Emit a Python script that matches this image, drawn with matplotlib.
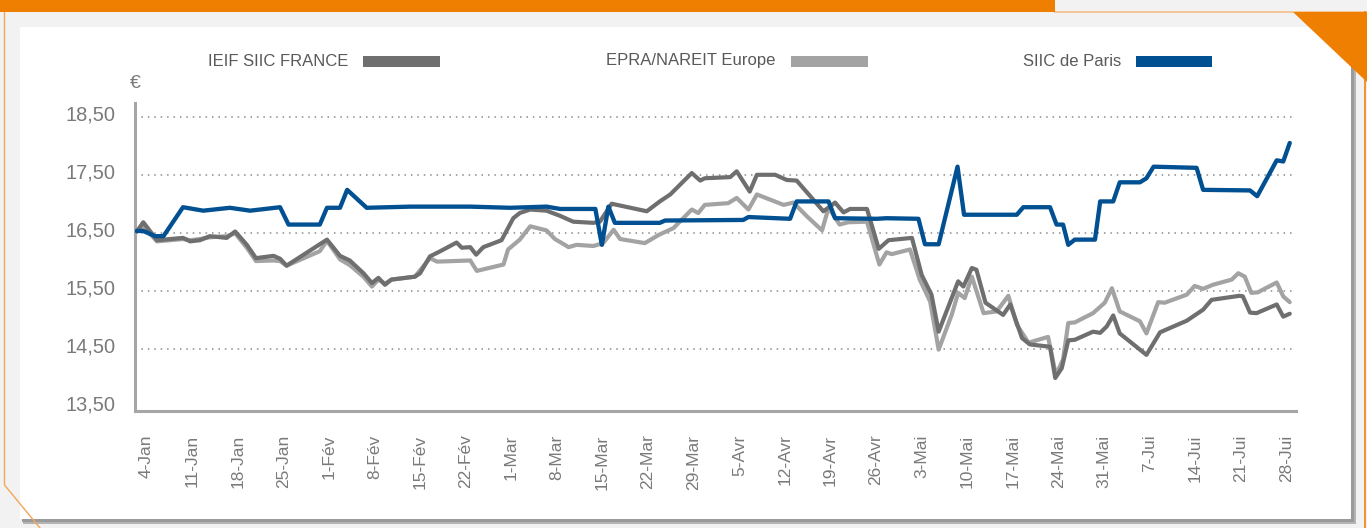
import matplotlib
matplotlib.use("Agg")
import matplotlib.pyplot as plt
from matplotlib.patches import Rectangle, Polygon
from matplotlib.lines import Line2D
from matplotlib.transforms import ScaledTranslation

# ---------------- data (x = calendar days since 4-Jan) ----------------
tick_days = [0, 7, 14, 21, 28, 35, 42, 49, 56, 63, 70, 77, 84, 91, 98, 105,
             112, 119, 126, 133, 140, 147, 154, 161, 168, 175]
tick_labels = ["4-Jan", "11-Jan", "18-Jan", "25-Jan", "1-Fév", "8-Fév", "15-Fév",
               "22-Fév", "1-Mar", "8-Mar", "15-Mar", "22-Mar", "29-Mar", "5-Avr",
               "12-Avr", "19-Avr", "26-Avr", "3-Mai", "10-Mai", "17-Mai", "24-Mai",
               "31-Mai", "7-Jui", "14-Jui", "21-Jui", "28-Jui"]
y_ticks = [13.5, 14.5, 15.5, 16.5, 17.5, 18.5]
y_ticklabels = ["13,50", "14,50", "15,50", "16,50", "17,50", "18,50"]

series_names = ["IEIF SIIC FRANCE", "EPRA/NAREIT Europe", "SIIC de Paris"]

ieif_days = [-1.5, -0.5, 1.6, 3.6, 5.6, 6.7, 8.2, 9.7, 12.3, 13.6,
             15.4, 16.8, 19.5, 20.5, 21.5, 27.7, 29.7, 31.2, 33.3, 34.6,
             35.6, 36.6, 37.6, 41.2, 42.0, 43.5, 45.1, 47.6, 48.4, 49.7,
             50.6, 51.7, 54.5, 56.3, 57.3, 58.9, 61.4, 63.5, 65.5, 68.6,
             69.6, 71.4, 76.8, 78.8, 80.4, 83.7, 85.0, 85.7, 89.6, 90.6,
             92.6, 93.7, 96.5, 98.3, 99.8, 101.9, 103.9, 104.9, 105.7, 107.0,
             108.0, 110.6, 112.4, 113.9, 117.5, 119.0, 120.5, 121.6, 124.6, 125.4,
             126.7, 127.4, 128.8, 131.5, 132.6, 134.4, 135.6, 138.7, 139.5, 140.5,
             141.5, 142.5, 145.3, 146.4, 147.4, 148.4, 149.4, 153.5, 155.6, 159.7,
             162.2, 163.5, 167.8, 168.3, 169.4, 170.4, 173.5, 174.5, 175.5]
ieif_vals = [16.53, 16.69, 16.38, 16.40, 16.42, 16.36, 16.38, 16.45, 16.42, 16.53,
             16.30, 16.07, 16.11, 16.06, 15.94, 16.39, 16.11, 16.03, 15.81, 15.64,
             15.73, 15.61, 15.70, 15.75, 15.81, 16.10, 16.19, 16.34, 16.25, 16.26,
             16.13, 16.26, 16.38, 16.76, 16.85, 16.91, 16.89, 16.80, 16.70, 16.68,
             16.70, 17.01, 16.88, 17.05, 17.17, 17.54, 17.41, 17.45, 17.47, 17.57,
             17.22, 17.51, 17.51, 17.42, 17.41, 17.14, 16.88, 16.96, 17.03, 16.86,
             16.92, 16.92, 16.23, 16.38, 16.42, 15.78, 15.44, 14.80, 15.67, 15.58,
             15.90, 15.87, 15.30, 15.09, 15.27, 14.69, 14.58, 14.54, 14.00, 14.17,
             14.65, 14.66, 14.80, 14.78, 14.89, 15.08, 14.77, 14.40, 14.79, 14.99,
             15.18, 15.35, 15.42, 15.41, 15.13, 15.12, 15.27, 15.06, 15.11]

epra_days = [-1.5, -0.5, 1.6, 3.6, 5.6, 6.7, 8.2, 9.7, 12.3, 13.6,
             15.4, 16.8, 19.5, 20.5, 21.5, 26.6, 27.7, 29.7, 31.2, 33.3,
             34.6, 35.6, 36.6, 37.6, 41.2, 43.5, 44.6, 49.7, 50.7, 54.8,
             55.5, 57.3, 58.9, 61.4, 62.7, 64.8, 66.0, 68.6, 70.1, 71.7,
             72.7, 76.5, 78.6, 80.9, 83.7, 84.7, 85.7, 89.3, 90.6, 92.4,
             93.7, 97.8, 99.3, 101.4, 103.7, 104.7, 106.4, 107.7, 110.6, 112.5,
             113.6, 114.4, 117.2, 118.7, 120.3, 121.6, 123.6, 124.6, 125.6, 126.7,
             128.5, 130.5, 132.3, 133.6, 135.4, 138.4, 139.6, 140.7, 141.5, 142.5,
             145.3, 147.1, 148.2, 149.4, 152.5, 153.5, 155.3, 156.3, 159.7, 160.9,
             162.2, 163.7, 166.6, 167.6, 168.6, 169.6, 170.6, 173.5, 174.5, 175.5]
epra_vals = [16.53, 16.62, 16.36, 16.38, 16.40, 16.38, 16.40, 16.43, 16.45, 16.50,
             16.25, 16.02, 16.03, 16.02, 15.94, 16.19, 16.37, 16.05, 15.95, 15.75,
             15.58, 15.70, 15.63, 15.70, 15.75, 16.07, 16.01, 16.03, 15.85, 15.96,
             16.22, 16.39, 16.62, 16.55, 16.40, 16.26, 16.30, 16.28, 16.33, 16.56,
             16.40, 16.33, 16.47, 16.59, 16.91, 16.85, 16.99, 17.02, 17.11, 16.91,
             17.17, 16.99, 17.03, 16.79, 16.55, 16.94, 16.65, 16.69, 16.70, 15.96,
             16.17, 16.14, 16.22, 15.70, 15.32, 14.49, 15.09, 15.47, 15.38, 15.75,
             15.12, 15.15, 15.42, 14.92, 14.61, 14.71, 14.05, 14.32, 14.95, 14.96,
             15.12, 15.30, 15.55, 15.15, 14.98, 14.77, 15.31, 15.30, 15.44, 15.59,
             15.54, 15.61, 15.70, 15.81, 15.75, 15.47, 15.48, 15.65, 15.41, 15.31]

siic_days = [-1.5, -0.5, 1.3, 2.6, 5.6, 8.7, 12.8, 15.9, 20.5, 21.8,
             26.6, 27.7, 29.7, 30.8, 33.8, 40.5, 49.7, 55.8, 61.4, 63.5,
             68.9, 69.9, 70.9, 71.9, 78.8, 79.6, 91.6, 92.4, 98.8, 99.8,
             104.7, 105.7, 112.1, 113.6, 118.5, 119.5, 121.6, 124.5, 125.5, 133.6,
             134.6, 138.7, 139.7, 140.7, 141.5, 142.5, 145.6, 146.4, 148.4, 149.4,
             152.5, 153.5, 154.6, 161.2, 162.2, 169.4, 170.5, 173.5, 174.5, 175.5]
siic_vals = [16.54, 16.54, 16.45, 16.45, 16.95, 16.89, 16.94, 16.89, 16.95, 16.65,
             16.65, 16.94, 16.94, 17.25, 16.94, 16.96, 16.96, 16.94, 16.96, 16.92,
             16.92, 16.30, 16.96, 16.68, 16.68, 16.72, 16.73, 16.78, 16.75, 17.05,
             17.05, 16.76, 16.75, 16.76, 16.75, 16.31, 16.31, 17.65, 16.82, 16.82,
             16.95, 16.95, 16.65, 16.65, 16.30, 16.39, 16.39, 17.05, 17.05, 17.38,
             17.38, 17.45, 17.65, 17.63, 17.25, 17.24, 17.14, 17.76, 17.74, 18.06]

colors = ["#6f6f6f", "#a3a3a3", "#005092"]

# ---------------- figure ----------------
W, H = 1367, 528
plt.rcParams["font.family"] = ["Liberation Sans", "DejaVu Sans"]
fig = plt.figure(figsize=(W / 100, H / 100), dpi=100, facecolor="#f2f2f2")


def fx(x):
    return x / W


def fy(y):
    return 1 - y / H


def prect(x0, y0, x1, y1, **kw):
    fig.patches.append(Rectangle((fx(x0), fy(y1)), fx(x1) - fx(x0), fy(y0) - fy(y1),
                                 transform=fig.transFigure, **kw))


def pline(xs, ys, **kw):
    fig.add_artist(Line2D([fx(v) for v in xs], [fy(v) for v in ys],
                          transform=fig.transFigure, **kw))


# decorations
prect(0, 0, 1055, 11.5, facecolor="#EF7F00", edgecolor="none", zorder=-5)
pline([1055, 1367], [11.5, 11.5], color="#F6BE85", lw=1.2, zorder=-5)
pline([4.5, 4.5, 40], [12, 485, 528], color="#F2A65A", lw=1.0, zorder=-5)
pline([1364.5, 1364.5], [12, 528], color="#EF8A1A", lw=1.3, zorder=-5)
# card shadow and card
prect(23, 31, 1356, 524, facecolor="#b4b4b4", edgecolor="none", zorder=-9)
prect(22, 30, 1354, 522, facecolor="#9a9a9a", edgecolor="none", zorder=-8)
prect(20, 27, 1351, 519, facecolor="white", edgecolor="none", zorder=-7)
fig.patches.append(Polygon([(fx(1293), fy(12)), (fx(1367), fy(12)), (fx(1367), fy(82))],
                           closed=True, transform=fig.transFigure,
                           facecolor="#EF7F00", edgecolor="none", zorder=-4))

# ---------------- axes ----------------
ax_l, ax_r, ax_t, ax_b = 135, 1296, 103, 411
ax = fig.add_axes([fx(ax_l), fy(ax_b), fx(ax_r) - fx(ax_l), fy(ax_t) - fy(ax_b)])
ax.set_facecolor("none")

ax.plot(epra_days, epra_vals, color=colors[1], lw=3.0, solid_joinstyle="round",
        solid_capstyle="round", zorder=3)
ax.plot(ieif_days, ieif_vals, color=colors[0], lw=3.0, solid_joinstyle="round",
        solid_capstyle="round", zorder=4)
ax.plot(siic_days, siic_vals, color=colors[2], lw=3.1, solid_joinstyle="round",
        solid_capstyle="round", zorder=5)

ax.set_xlim(-1.77, 176.46)
ax.set_ylim(13.43, 18.75)

ax.set_yticks(y_ticks)
ax.set_yticklabels(y_ticklabels)
ax.set_xticks(tick_days)
ax.set_xticklabels(tick_labels, rotation=90, va="top", ha="center")

for t in y_ticks[1:]:
    ax.axhline(t, color="#8a8a8a", lw=1.1, ls=(0, (1, 3.2)), zorder=1)

ax.tick_params(axis="y", length=0, pad=14, labelsize=14.4, labelcolor="#7a7a7a")
ax.tick_params(axis="x", length=0, pad=17, labelsize=12.5, labelcolor="#7a7a7a")

# y labels sit slightly above their gridlines in the reference
shift = ScaledTranslation(0, 4 / 100, fig.dpi_scale_trans)
for lab in ax.get_yticklabels():
    lab.set_transform(lab.get_transform() + shift)

for s in ["top", "right"]:
    ax.spines[s].set_visible(False)
for s in ["left", "bottom"]:
    ax.spines[s].set_color("#a6a6a6")
    ax.spines[s].set_linewidth(2.2)

# euro symbol
fig.text(fx(135), fy(83), "€", ha="center", va="center", fontsize=14, color="#7a7a7a")

# ---------------- legend ----------------
leg_text_right = [348, 775, 1121]
leg_patch = [(363, 440), (791, 868), (1136, 1212)]
for name, col, tr, (p0, p1) in zip(series_names, colors, leg_text_right, leg_patch):
    fig.text(fx(tr), fy(61), name, ha="right", va="center", fontsize=12,
             color="#595959")
    prect(p0, 56, p1, 67, facecolor=col, edgecolor="none", zorder=2)

fig.savefig("out.png", dpi=100, facecolor=fig.get_facecolor())
